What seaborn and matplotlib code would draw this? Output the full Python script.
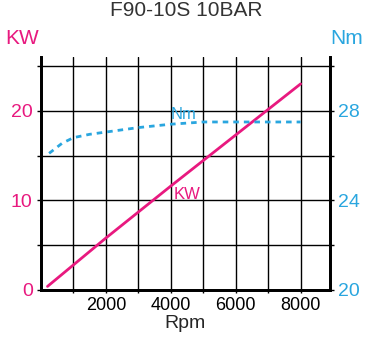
import numpy as np
import pandas as pd
import matplotlib
matplotlib.use("Agg")
import matplotlib.pyplot as plt
import seaborn as sns

# data
kw_rpm = [200, 2000, 4000, 6000, 8000]
kw_vals = [0.4, 5.8, 11.6, 17.3, 23.0]
nm_rpm = [250, 650, 1000, 1500, 2000, 3000, 4000, 5000, 6000, 7000, 8000]
nm_vals = [26.1, 26.55, 26.8, 26.95, 27.05, 27.25, 27.4, 27.5, 27.5, 27.5, 27.5]
x_ticks = [2000, 4000, 6000, 8000]
kw_ticks = [0, 10, 20]
nm_ticks = [20, 24, 28]

MAG = "#e8197f"
BLUE = "#2aa6df"

sns.set_style("white")
plt.rcParams['font.family'] = ['Liberation Sans Narrow', 'Liberation Sans', 'DejaVu Sans']

fig = plt.figure(figsize=(3.71, 3.47), dpi=100)
ax = fig.add_axes([0.1105, 0.1643, 0.7785, 0.6714])
ax2 = ax.twinx()

kw = pd.DataFrame({"rpm": kw_rpm, "kw": kw_vals})
nm = pd.DataFrame({"rpm": nm_rpm, "nm": nm_vals})

ymax = 26.0
ax.set_xlim(0, 8900)
ax.set_ylim(0, ymax)
ax2.set_ylim(20, 20 + ymax * 0.4)

# grid
ax.set_xticks(np.arange(1000, 9000, 1000), minor=True)
ax.set_yticks(np.arange(5, 26, 5), minor=True)
ax.grid(which="minor", color="black", lw=1.0)
ax.set_xticks(x_ticks)
ax.set_yticks(kw_ticks)
ax.grid(which="major", color="black", lw=1.0)

sns.lineplot(data=kw, x="rpm", y="kw", ax=ax, color=MAG, lw=2)
sns.lineplot(data=nm, x="rpm", y="nm", ax=ax2, color=BLUE, lw=2, linestyle=(0, (2, 1.8)))

ax.set_xticklabels([str(t) for t in x_ticks])
ax.set_yticklabels([str(t) for t in kw_ticks])
ax2.set_yticks(nm_ticks)
ax2.set_yticks(np.arange(22, 31, 2), minor=True)
ax2.set_yticklabels([str(t) for t in nm_ticks])

ax.tick_params(axis="y", which="both", colors="black", labelcolor=MAG, labelsize=14,
               direction="out", length=3, width=1, left=True, pad=3)
ax.tick_params(axis="x", which="both", colors="black", labelsize=13,
               direction="out", length=2, width=1, bottom=True, pad=3)
ax2.tick_params(axis="y", which="both", colors="black", labelcolor=BLUE, labelsize=14,
                direction="out", length=3, width=1, right=True, pad=3)

for a in (ax, ax2):
    a.spines["top"].set_visible(False)
    for s in ("left", "right", "bottom"):
        a.spines[s].set_linewidth(2)
        a.spines[s].set_color("black")

ax.set_xlabel("Rpm", fontsize=14, labelpad=1)
ax.set_ylabel("")
ax2.set_ylabel("")

ax.text(4400, 19.6, "Nm", color=BLUE, fontsize=12, ha="center", va="center")
ax.text(4500, 10.7, "KW", color=MAG, fontsize=12, ha="center", va="center")

fig.text(22 / 371, 1 - 38 / 347, "KW", color=MAG, fontsize=15, ha="center", va="center")
fig.text(347 / 371, 1 - 38 / 347, "Nm", color=BLUE, fontsize=15, ha="center", va="center")
fig.text(186 / 371, 1 - 11 / 347, "F90-10S 10BAR", color="#333333", fontsize=15,
         ha="center", va="center")

fig.savefig("out.png", dpi=100)
